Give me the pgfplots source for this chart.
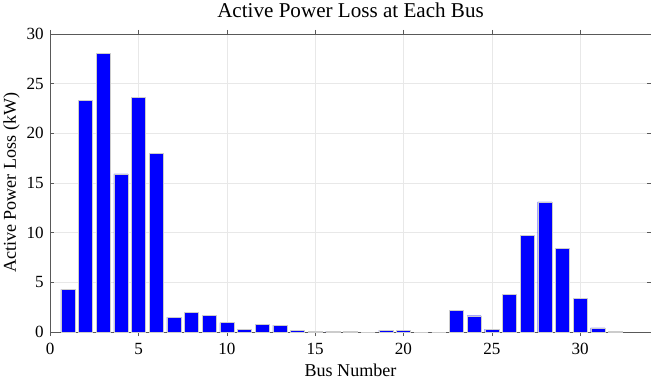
\documentclass[border=0pt]{standalone}
\usepackage{pgfplots}
\pgfplotsset{compat=1.18}
\usepackage{fontspec}
\setmainfont{Liberation Serif}
\begin{document}
\begin{tikzpicture}
\begin{axis}[
  scale only axis,
  width=598pt, height=297pt,
  xmin=0, xmax=34, ymin=0, ymax=30,
  xtick={0,5,...,30}, ytick={0,5,...,30},
  tick align=inside,
  major tick length=4pt,
  grid=major,
  grid style={gray!18, line width=0.4pt},
  axis line style={gray!70!black, line width=0.5pt},
  tick style={gray!70!black},
  ticklabel style={font=\fontsize{17}{17}\selectfont},
  xticklabel style={yshift=-4pt},
  yticklabel style={xshift=-3pt},
  /pgf/number format/assume math mode=true,
  title={Active Power Loss at Each Bus},
  title style={font=\fontsize{21}{21}\selectfont, yshift=6pt},
  xlabel={Bus Number},
  ylabel={Active Power Loss (kW)},
  label style={font=\fontsize{18}{18}\selectfont},
  xlabel style={yshift=-2pt},
  ylabel style={yshift=0pt},
  ybar, bar width=0.8, bar shift=0pt,
]
\addplot[fill={rgb,255:red,0;green,0;blue,255}, draw=gray!40, line width=0.4pt] coordinates {
(1,4.3) (2,23.3) (3,28.0) (4,15.9) (5,23.6) (6,18.0) (7,1.5) (8,2.0) (9,1.7) (10,0.95)
(11,0.3) (12,0.8) (13,0.7) (14,0.2) (15,0.1) (16,0.1) (17,0.05) (18,0) (19,0.2) (20,0.2)
(21,0) (22,0) (23,2.15) (24,1.64) (25,0.3) (26,3.77) (27,9.7) (28,13.1) (29,8.45) (30,3.37)
(31,0.42) (32,0.05)
};
\end{axis}
\end{tikzpicture}
\end{document}
